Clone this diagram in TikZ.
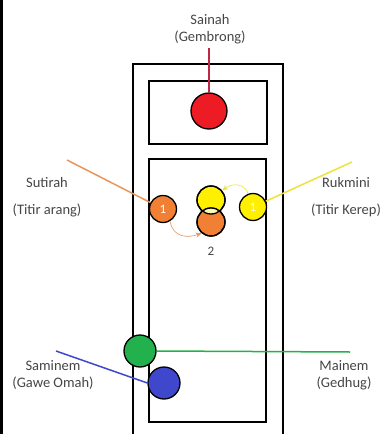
\documentclass[tikz,border=0pt]{standalone}
\usepackage{fontspec}
\setmainfont{Carlito}
\usetikzlibrary{arrows.meta}
\definecolor{cred}{RGB}{237,28,36}
\definecolor{corange}{RGB}{242,128,52}
\definecolor{cyellow}{RGB}{255,240,0}
\definecolor{cgreen}{RGB}{34,177,76}
\definecolor{cblue}{RGB}{63,72,204}
\definecolor{ltan}{RGB}{232,150,90}
\definecolor{lyellow}{RGB}{236,228,60}
\definecolor{lred}{RGB}{190,40,70}
\definecolor{txt}{RGB}{70,70,70}
\begin{document}
\begin{tikzpicture}[x=1pt,y=-1pt,
  frame/.style={draw=black,line width=2pt},
  dot/.style={circle,draw=black,line width=1.3pt,inner sep=0pt},
  lbl/.style={text=txt,font=\fontsize{14.5}{16}\selectfont,align=center,inner sep=0pt},
  num/.style={text=white,font=\fontsize{13}{14}\selectfont,inner sep=0pt},
  conn/.style={line width=1.5pt},
  thin/.style={line width=0.6pt,-{Stealth[length=6pt,width=5pt]}}]
\useasboundingbox (0,0) rectangle (387,434);
\fill[white] (0,0) rectangle (387,434);
% left border
\draw[line width=3pt] (1.5,0) -- (1.5,434);
% frames
\draw[frame] (133,440) -- (133,64) -- (283,64) -- (283,440);
\draw[frame] (149,81) rectangle (267,144);
\draw[frame] (149,159) rectangle (266,422);
% labels
\node[lbl] (sainah) at (210,29) {Sainah\\[1pt](Gembrong)};
\node[lbl] (sutirah) at (47,197) {Sutirah\\[11pt](Titir arang)};
\node[lbl] (rukmini) at (346,197) {Rukmini\\[11pt](Titir Kerep)};
\node[lbl] (saminem) at (53,375) {Saminem\\[1pt](Gawe Omah)};
\node[lbl] (mainem) at (344,375) {Mainem\\[1pt](Gedhug)};
% connector anchors
\coordinate (sainahend) at (209,48);
\coordinate (sutirahend) at (67,160);
\coordinate (rukminiend) at (352,162);
\coordinate (saminemend) at (56,351);
\coordinate (mainemend) at (350,352);
% circles
\node[dot,fill=cred,minimum size=36pt] (red) at (209,111) {};
\node[dot,fill=cyellow,minimum size=28pt] (ytop) at (211,200) {};
\node[dot,fill=corange,minimum size=28pt] (obot) at (211,222) {};
\begin{scope}
\clip (211,222) circle (14);
\fill[white!70!cyellow] (211,200) circle (14);
\end{scope}
\draw[line width=1.3pt] (211,222) circle (14);
\draw[line width=1.3pt] (211,200) circle (14);
\node[num,text=txt] (two) at (211,251) {2};
% connectors drawn under small circles
\draw[conn,color=lred] (sainahend) -- (red.north);
\draw[conn,color=ltan] (sutirahend) -- (163,209);
\draw[conn,color=lyellow] (rukminiend) -- (253,207);
\node[dot,fill=corange,minimum size=27pt] (sut) at (163,209) {};
\node[dot,fill=cyellow,minimum size=27pt] (ruk) at (253,207) {};
\node[num] at (sut) {1};
\node[num] at (ruk) {1};
% thin move arrows
\draw[thin,color=ltan] (sut.-60) .. controls (173,238) and (188,238) .. (obot.-130);
\draw[thin,color=lyellow] (ruk.110) .. controls (246,186) and (235,181) .. (ytop.40);
% green and blue
\node[dot,fill=cgreen,minimum size=32pt] (green) at (140,351) {};
\draw[conn,color=cgreen] (green.east) -- (mainemend);
\node[dot,fill=cblue,minimum size=32pt] (blue) at (164,383) {};
\draw[conn,color=cblue] (saminemend) -- (blue.west);
\end{tikzpicture}
\end{document}
